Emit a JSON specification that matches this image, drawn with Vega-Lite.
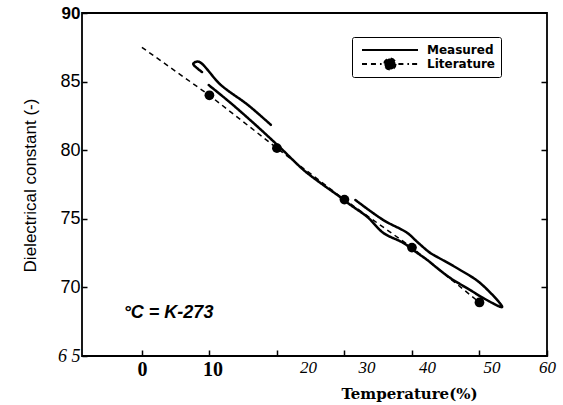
{
  "$schema": "https://vega.github.io/schema/vega-lite/v6.json",
  "width": 465,
  "height": 343,
  "autosize": "none",
  "padding": {"left": 82, "top": 13, "right": 16, "bottom": 49},
  "background": "white",
  "config": {
    "view": {"stroke": "black", "strokeWidth": 1.8},
    "axis": {"grid": false, "domain": false}
  },
  "data": {
    "values": [
      {"series": "Measured", "seg": "A", "o": 1, "x": 8.9, "y": 85.7},
      {"series": "Measured", "seg": "A", "o": 2, "x": 7.6, "y": 86.3},
      {"series": "Measured", "seg": "A", "o": 3, "x": 8.4, "y": 86.45},
      {"series": "Measured", "seg": "A", "o": 4, "x": 11.7, "y": 84.75},
      {"series": "Measured", "seg": "A", "o": 5, "x": 15.7, "y": 83.3},
      {"series": "Measured", "seg": "A", "o": 6, "x": 19.1, "y": 81.85},
      {"series": "Measured", "seg": "B", "o": 1, "x": 9.9, "y": 84.75},
      {"series": "Measured", "seg": "B", "o": 2, "x": 13.15, "y": 83.44},
      {"series": "Measured", "seg": "B", "o": 3, "x": 16.85, "y": 81.84},
      {"series": "Measured", "seg": "B", "o": 4, "x": 20.54, "y": 80.16},
      {"series": "Measured", "seg": "B", "o": 5, "x": 23.94, "y": 78.56},
      {"series": "Measured", "seg": "B", "o": 6, "x": 26.45, "y": 77.61},
      {"series": "Measured", "seg": "B", "o": 7, "x": 28.96, "y": 76.73},
      {"series": "Measured", "seg": "B", "o": 8, "x": 30.89, "y": 76.01},
      {"series": "Measured", "seg": "B", "o": 9, "x": 33.4, "y": 75.13},
      {"series": "Measured", "seg": "B", "o": 10, "x": 35.76, "y": 73.97},
      {"series": "Measured", "seg": "B", "o": 11, "x": 38.72, "y": 73.24},
      {"series": "Measured", "seg": "B", "o": 12, "x": 40.79, "y": 72.51},
      {"series": "Measured", "seg": "B", "o": 13, "x": 42.26, "y": 72.0},
      {"series": "Measured", "seg": "B", "o": 14, "x": 43.74, "y": 71.41},
      {"series": "Measured", "seg": "B", "o": 15, "x": 45.66, "y": 70.69},
      {"series": "Measured", "seg": "B", "o": 16, "x": 48.62, "y": 69.81},
      {"series": "Measured", "seg": "B", "o": 17, "x": 50.54, "y": 69.23},
      {"series": "Measured", "seg": "B", "o": 18, "x": 53.35, "y": 68.57},
      {"series": "Measured", "seg": "B", "o": 19, "x": 50.1, "y": 70.32},
      {"series": "Measured", "seg": "B", "o": 20, "x": 47.14, "y": 71.27},
      {"series": "Measured", "seg": "B", "o": 21, "x": 43.74, "y": 72.22},
      {"series": "Measured", "seg": "B", "o": 22, "x": 42.71, "y": 72.51},
      {"series": "Measured", "seg": "B", "o": 23, "x": 40.79, "y": 73.31},
      {"series": "Measured", "seg": "B", "o": 24, "x": 39.31, "y": 73.97},
      {"series": "Measured", "seg": "B", "o": 25, "x": 35.76, "y": 74.91},
      {"series": "Measured", "seg": "B", "o": 26, "x": 31.62, "y": 76.37},
      {"series": "Literature", "seg": "L", "o": 1, "x": 0, "y": 87.5},
      {"series": "Literature", "seg": "L", "o": 2, "x": 10, "y": 84.0},
      {"series": "Literature", "seg": "L", "o": 3, "x": 20, "y": 80.15},
      {"series": "Literature", "seg": "L", "o": 4, "x": 30, "y": 76.4},
      {"series": "Literature", "seg": "L", "o": 5, "x": 40, "y": 72.9},
      {"series": "Literature", "seg": "L", "o": 6, "x": 50, "y": 68.9}
    ]
  },
  "layer": [
    {
      "transform": [{"filter": "datum.series == 'Measured'"}],
      "mark": {"type": "line", "stroke": "black", "strokeWidth": 2.5, "strokeJoin": "round", "strokeCap": "round", "interpolate": "catmull-rom"},
      "encoding": {
        "x": {
          "field": "x", "type": "quantitative",
          "scale": {"domain": [-8.87, 60], "nice": false, "zero": false},
          "axis": {
            "values": [0, 10, 20, 30, 40, 50, 60],
            "title": "Temperature(%)",
            "titleFont": "DejaVu Serif", "titleFontWeight": "bold", "titleFontSize": 15, "titleColor": "black",
            "titleX": 327, "titleY": 37, "titleAlign": "center", "titleBaseline": "middle",
            "tickSize": -6, "tickColor": "black", "tickWidth": 1.5,
            "labelColor": "black", "labelPadding": 9,
            "labelFont": {"condition": {"test": "datum.value <= 10", "value": "Liberation Serif"}, "value": "Liberation Sans Narrow"},
            "labelFontWeight": {"condition": {"test": "datum.value <= 10", "value": "bold"}, "value": "normal"},
            "labelFontStyle": {"condition": {"test": "datum.value <= 10", "value": "normal"}, "value": "italic"},
            "labelFontSize": {"condition": {"test": "datum.value <= 10", "value": 20}, "value": 17},
            "labelOffset": {"condition": [
              {"test": "datum.value == 20", "value": 31},
              {"test": "datum.value == 30", "value": 22},
              {"test": "datum.value == 40", "value": 15},
              {"test": "datum.value == 50", "value": 12},
              {"test": "datum.value == 10", "value": 3}
            ], "value": 0},
            "labelFlush": false, "labelOverlap": false, "labelBound": false
          }
        },
        "y": {
          "field": "y", "type": "quantitative",
          "scale": {"domain": [65, 90], "nice": false, "zero": false},
          "axis": {
            "orient": "left",
            "values": [65, 70, 75, 80, 85, 90],
            "title": "Dielectrical constant (-)",
            "titleFont": "Liberation Sans", "titleFontSize": 17, "titleFontWeight": "normal", "titleColor": "black",
            "titleX": -52, "titleY": 172, "titleAngle": -90, "titleAlign": "center", "titleBaseline": "middle",
            "tickSize": -5, "tickColor": "black", "tickWidth": 1.5,
            "labelPadding": 7, "labelColor": "black",
            "labelExpr": "datum.value == 65 ? '6 5' : datum.label",
            "labelFont": {"condition": {"test": "datum.value == 65", "value": "Liberation Serif"}, "value": "Liberation Sans"},
            "labelFontStyle": {"condition": {"test": "datum.value == 65", "value": "italic"}, "value": "normal"},
            "labelFontWeight": {"condition": {"test": "datum.value == 90", "value": "bold"}, "value": "normal"},
            "labelFontSize": {"condition": {"test": "datum.value == 90", "value": 17}, "value": 18},
            "labelFlush": false, "labelOverlap": false, "labelBound": false
          }
        },
        "detail": {"field": "seg"},
        "order": {"field": "o"},
        "strokeDash": {
          "field": "series", "type": "nominal",
          "scale": {"domain": ["Measured", "Literature"], "range": [[1, 0], [5, 4]]},
          "legend": {
            "title": null, "orient": "none", "legendX": 270, "legendY": 24,
            "strokeColor": "black", "padding": 6, "cornerRadius": 2,
            "symbolSize": 3136, "clipHeight": 14, "symbolOffset": 3, "labelOffset": 8,
            "symbolStrokeColor": "black", "symbolStrokeWidth": 2,
            "rowPadding": 0, "labelAlign": "left", "gridAlign": "all",
            "labelFont": "DejaVu Sans", "labelFontWeight": "bold", "labelFontSize": 12, "labelColor": "black",
            "encode": {
              "symbols": {
                "update": {
                  "shape": {"signal": "datum.value === 'Literature' ? 'M-1,0H-0.79M-0.68,0H-0.3M0.3,0H0.68M0.79,0H1M0.2,0A0.2,0.2,0,1,1,-0.2,0A0.2,0.2,0,1,1,0.2,0Z' : 'M-1,0H1'"},
                  "fill": {"signal": "datum.value === 'Literature' ? 'black' : 'transparent'"},
                  "stroke": {"value": "black"},
                  "strokeWidth": {"value": 2},
                  "strokeCap": {"value": "butt"},
                  "strokeOpacity": {"value": 1},
                  "strokeDash": {"value": [1, 0]}
                }
              },
              "labels": {
                "update": {
                  "align": {"value": "left"}
                }
              }
            }
          }
        }
      }
    },
    {
      "transform": [{"filter": "datum.series == 'Literature'"}],
      "mark": {"type": "line", "stroke": "black", "strokeWidth": 1.5},
      "encoding": {
        "x": {"field": "x", "type": "quantitative"},
        "y": {"field": "y", "type": "quantitative", "axis": null},
        "order": {"field": "o"},
        "strokeDash": {"field": "series", "type": "nominal"}
      }
    },
    {
      "transform": [{"filter": "datum.series == 'Literature' && datum.x > 0"}],
      "mark": {"type": "point", "filled": true, "color": "black", "opacity": 1, "size": 95},
      "encoding": {
        "x": {"field": "x", "type": "quantitative"},
        "y": {
          "field": "y", "type": "quantitative",
          "axis": {"orient": "right", "labels": false, "title": null, "values": [70, 75, 80, 85], "tickSize": -6, "tickColor": "black", "tickWidth": 1.5, "domain": false}
        }
      }
    },
    {
      "data": {"values": [{"note": "°C = K-273"}]},
      "mark": {"type": "text", "align": "left", "baseline": "middle", "font": "Liberation Sans", "fontWeight": "bold", "fontStyle": "italic", "fontSize": 18, "color": "black"},
      "encoding": {
        "x": {"datum": -2.7, "type": "quantitative"},
        "y": {"datum": 68.1, "type": "quantitative", "axis": null},
        "text": {"field": "note"}
      }
    }
  ],
  "resolve": {"axis": {"y": "independent"}}
}
